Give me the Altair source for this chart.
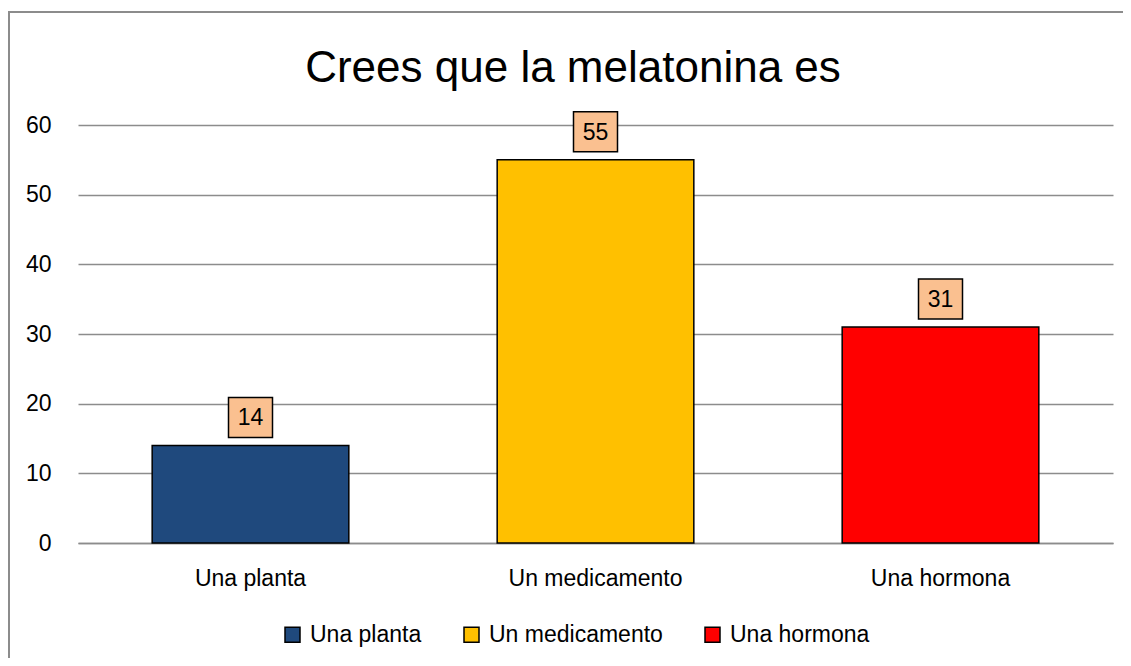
import altair as alt
import pandas as pd

categories = ["Una planta", "Un medicamento", "Una hormona"]
values = [14, 55, 31]
colors = ["#1F497D", "#FFC000", "#FF0000"]
y_ticks = [0, 10, 20, 30, 40, 50, 60]
title_text = "Crees que la melatonina es"

df = pd.DataFrame({"cat": categories, "val": values})
FONT = "Liberation Sans"

x_enc = alt.X("cat:N", sort=categories, title=None,
              scale=alt.Scale(paddingInner=0.43, paddingOuter=0.215),
              axis=alt.Axis(labelAngle=0, labelFontSize=23, labelFont=FONT,
                            labelColor="#000000", labelPadding=24, ticks=False,
                            domain=True, domainColor="#8C8C8C", domainWidth=1.5,
                            grid=False))
y_enc = alt.Y("val:Q", title=None,
              scale=alt.Scale(domain=[0, 60], nice=False),
              axis=alt.Axis(values=y_ticks, labelFontSize=23, labelFont=FONT,
                            labelColor="#000000", labelPadding=27, ticks=False,
                            domain=False, grid=True, gridColor="#8C8C8C",
                            gridWidth=1.5))

bars = alt.Chart(df).mark_bar(stroke="#000000", strokeWidth=1.5).encode(
    x=x_enc,
    y=y_enc,
    color=alt.Color("cat:N", sort=categories,
                    scale=alt.Scale(domain=categories, range=colors),
                    legend=alt.Legend(title=None, orient="none", direction="horizontal",
                                      legendX=203, legendY=498,
                                      symbolType="square", symbolSize=225,
                                      symbolStrokeColor="#000000", symbolStrokeWidth=1.5,
                                      symbolOpacity=1, labelLimit=0,
                                      labelFontSize=23, labelFont=FONT, labelColor="#000000",
                                      labelOffset=6, columnPadding=38, columns=3)),
)

boxes = alt.Chart(df).mark_point(
    shape="M-1.1,-1H1.1V1H-1.1Z", size=1600, filled=True, fill="#FAC090",
    stroke="#000000", strokeWidth=1.5, opacity=1, yOffset=-28,
).encode(x=alt.X("cat:N", sort=categories), y="val:Q")

labels = alt.Chart(df).mark_text(
    fontSize=23, font=FONT, color="#000000", baseline="middle", align="center", dy=-27,
).encode(x=alt.X("cat:N", sort=categories), y="val:Q", text="val:Q")

title = alt.Chart(pd.DataFrame({"t": [title_text]})).mark_text(
    fontSize=44, font=FONT, color="#000000", align="center", baseline="alphabetic",
).encode(text="t:N", x=alt.value(495), y=alt.value(-43))

border_top = alt.Chart(df).mark_rule(stroke="#8C8C8C", strokeWidth=2).encode(
    x=alt.value(-69), x2=alt.value(1080), y=alt.value(-113)
)
border_left = alt.Chart(df).mark_rule(stroke="#8C8C8C", strokeWidth=2).encode(
    x=alt.value(-69), y=alt.value(-114), y2=alt.value(560)
)

chart = alt.layer(border_top, border_left, bars, boxes, labels, title).properties(
    width=1035, height=418,
    padding={"left": 70, "top": 117, "right": 10, "bottom": 115},
    autosize=alt.AutoSizeParams(type="none"),
).configure_view(stroke=None)

chart.save("out.html", embed_options={"renderer": "svg", "actions": False})
